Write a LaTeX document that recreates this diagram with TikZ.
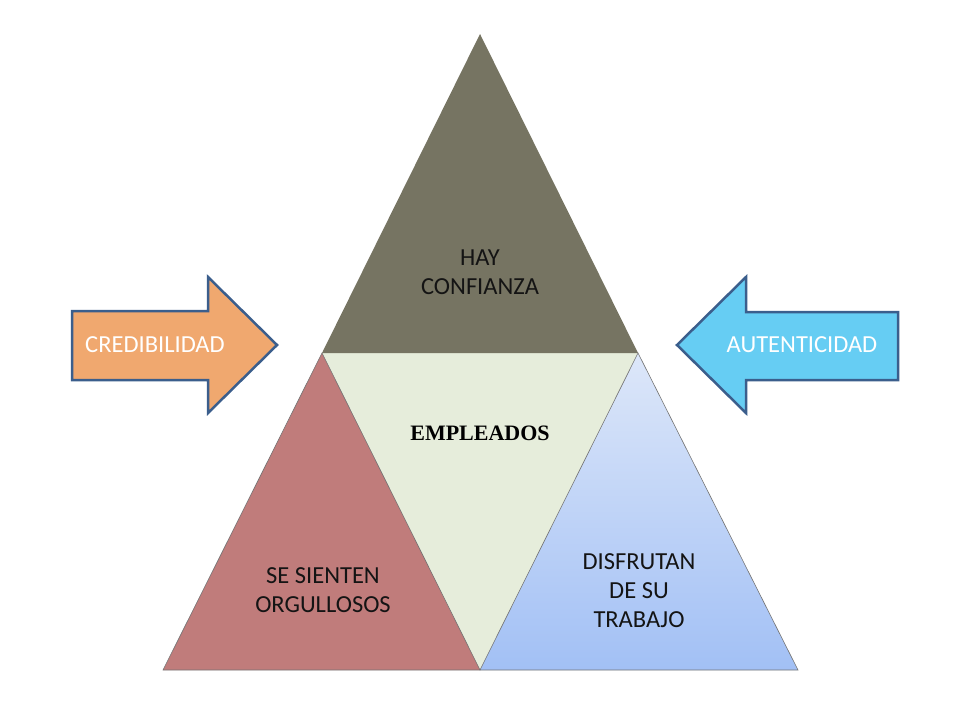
\documentclass[tikz,border=0pt]{standalone}
\usepackage{fontspec}
\setmainfont{Carlito}
\newfontfamily\empfont{Liberation Serif}
\definecolor{topgray}{HTML}{767462}
\definecolor{midgreen}{HTML}{E6EDDB}
\definecolor{rosefill}{HTML}{C07C7B}
\definecolor{bluetop}{HTML}{DDE7F9}
\definecolor{bluebot}{HTML}{A2C0F5}
\definecolor{orangefill}{HTML}{F0A86F}
\definecolor{cyanfill}{HTML}{66CDF3}
\definecolor{arrowedge}{HTML}{3B5E8C}
\tikzset{
  lbl/.style={font=\fontsize{24.5}{29}\selectfont, align=center, inner sep=0pt, text=black!92},
  arrowlbl/.style={font=\fontsize{24.5}{29}\selectfont, inner sep=0pt, text=white},
  arrowshape/.style={line width=2.5pt, draw=arrowedge, line join=miter},
  edge/.style={draw=black!55, line width=0.6pt}
}
\begin{document}
\begin{tikzpicture}[x=1pt,y=-1pt]
\useasboundingbox (0,0) rectangle (960,720);
\fill[white] (0,0) rectangle (960,720);
% corner points
\coordinate (A) at (480,34);
\coordinate (B) at (322,353);
\coordinate (C) at (638,353);
\coordinate (D) at (163,670);
\coordinate (E) at (480,670);
\coordinate (F) at (798,670);
% triangles
\fill[midgreen] (B) -- (C) -- (E) -- cycle;
\fill[topgray] (A) -- (B) -- (C) -- cycle;
\fill[rosefill] (B) -- (D) -- (E) -- cycle;
\draw[edge] (B) -- (D) -- (E) -- cycle;
\shade[top color=bluetop, bottom color=bluebot] (C) -- (E) -- (F) -- cycle;
\draw[edge] (C) -- (E) -- (F) -- cycle;
% arrows
\fill[orangefill, arrowshape] (72,311) -- (208,311) -- (208,277) -- (277,345) -- (208,413) -- (208,380) -- (72,380) -- cycle;
\fill[cyanfill, arrowshape] (898,312) -- (746,312) -- (746,277) -- (677,345) -- (746,413) -- (746,380) -- (898,380) -- cycle;
\node[arrowlbl] (cred) at (155,345) {CREDIBILIDAD};
\node[arrowlbl] (aut) at (802,345) {AUTENTICIDAD};
% labels
\node[lbl] (hay) at (480,272) {HAY\\CONFIANZA};
\node[inner sep=0pt, font=\empfont\bfseries\fontsize{22}{26}\selectfont] (emp) at (480,433) {EMPLEADOS};
\node[lbl] (org) at (323,590) {SE SIENTEN\\ORGULLOSOS};
\node[lbl] (dis) at (639,591) {DISFRUTAN\\DE SU\\TRABAJO};
\end{tikzpicture}
\end{document}
